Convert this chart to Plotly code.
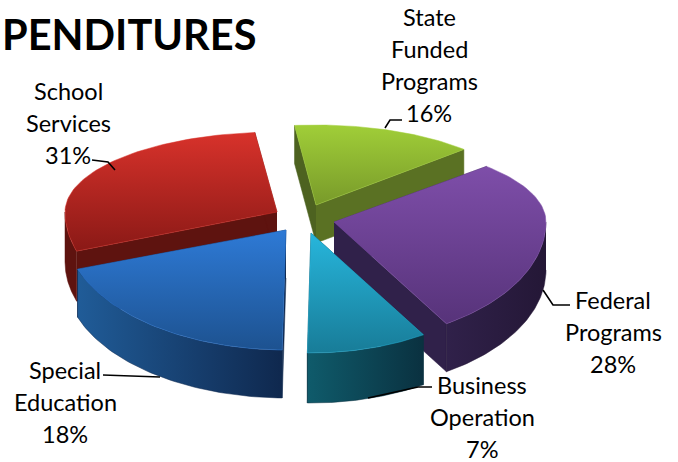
import numpy as np
import plotly.graph_objects as go

# Data as printed on the chart
categories = ["State Funded Programs", "Federal Programs", "Business Operation", "Special Education", "School Services"]
percent_labels = [16, 28, 7, 18, 31]
# Apparent share of the ellipse each slice covers
apparent_share = [14.44, 28.33, 9.17, 19.44, 28.62]
title_text = "PENDITURES"

label_lines = [["State", "Funded", "Programs"], ["Federal", "Programs"], ["Business", "Operation"], ["Special", "Education"], ["School", "Services"]]

# Layout / style
W, H = 678, 462
CX, CY = 305, 222
RX, RY_BACK, RY_FRONT = 212, 80, 120
START = -6
offset_x = [11, 29, 6, -19, -28]
offset_y = [-17, 0, 11, 8, -10]
rx_scale = [0.97, 1.0, 1.0, 1.04, 1.0]
depth = [38, 48, 50, 48, 50]
top_cols = [("#789a2a", "#a0ce38"), ("#57337a", "#7e4ea9"), ("#187c98", "#27b6dc"), ("#1d5290", "#2e7ad6"), ("#8a1916", "#d8322b")]
side_cols = [("#5c7423", "#5c7423"), ("#30214a", "#241736"), ("#0f5b6b", "#0a3140"), ("#205c98", "#0f284e"), ("#5e130f", "#5e130f")]
face_cols = ["#5a7123", "#30214a", "#0a3140", "#0f284e", "#5e130f"]
left_face_col = "#4d6220"
draw_order = [0, 4, 1, 3, 2]
label_x = [429, 613, 482, 65, 68]
label_y0 = [17, 300, 385, 370, 91]
LINE_H = 32
leaders = [([385, 390, 402], [128, 120, 120]), ([543, 553, 570], [290, 305, 305]),
           ([368, 418, 432], [398, 387, 387]), ([160, 103], [377, 375]), ([115, 108, 92], [170, 162, 160])]
FONT = "Lato"

def pt(a, apex, sx=1.0):
    t = np.radians(a)
    c = np.cos(t)
    ry = np.where(c >= 0, RY_BACK, RY_FRONT)
    return apex[0] + sx * RX * np.sin(t), apex[1] - ry * c

def poly(x, y, cols, kind="vertical"):
    return go.Scatter(x=list(x), y=list(y), mode="lines", fill="toself", line=dict(width=0.5, color=cols[1]),
                      hoverinfo="skip", showlegend=False,
                      fillgradient=dict(type=kind, colorscale=[[0, cols[0]], [1, cols[1]]]))

fig = go.Figure()
edges = START + np.cumsum([0] + apparent_share) * 3.6
for i in draw_order:
    a0, a1 = edges[i], edges[i + 1]
    apex = (CX + offset_x[i], CY + offset_y[i])
    d = depth[i]
    s = rx_scale[i]
    ang = np.linspace(a0, a1, 60)
    ax, ay = pt(ang, apex, s)
    # radial faces
    for a, col in ((a0, left_face_col if i == 0 else face_cols[i]), (a1, face_cols[i])):
        ex, ey = pt(np.array([a]), apex, s)
        fig.add_trace(poly([apex[0], ex[0], ex[0], apex[0]], [apex[1], ey[0], ey[0] + d, apex[1] + d], (col, col)))
    # outer wall on the near half
    lo, hi = max(a0, 90), min(a1, 270)
    if lo < hi:
        sa = np.linspace(lo, hi, 60)
        wx, wy = pt(sa, apex, s)
        fig.add_trace(poly(np.r_[wx, wx[::-1]], np.r_[wy, wy[::-1] + d], side_cols[i], "horizontal"))
    # top
    fig.add_trace(poly(np.r_[apex[0], ax, apex[0]], np.r_[apex[1], ay, apex[1]], top_cols[i]))

for lx, ly in leaders:
    fig.add_trace(go.Scatter(x=lx, y=ly, mode="lines", line=dict(color="black", width=1.6), hoverinfo="skip", showlegend=False))

anns = [dict(x=0, y=34, text=f"<b>{title_text}</b>", xanchor="left", yanchor="middle", showarrow=False,
             font=dict(family=FONT, size=41.5, color="black"))]
for i, lines in enumerate(label_lines):
    for j, s in enumerate(lines + [f"{percent_labels[i]}%"]):
        anns.append(dict(x=label_x[i], y=label_y0[i] + j * LINE_H, text=s, xanchor="center", yanchor="middle",
                         showarrow=False, font=dict(family=FONT, size=23.5, color="black"),
                         borderpad=0, borderwidth=0))

fig.update_layout(width=W, height=H, margin=dict(l=0, r=0, t=0, b=0), paper_bgcolor="white", plot_bgcolor="white",
                  showlegend=False, annotations=anns,
                  xaxis=dict(range=[0, W], visible=False, fixedrange=True),
                  yaxis=dict(range=[H, 0], visible=False, fixedrange=True))
fig.write_html("out.html", config=dict(displayModeBar=False),
               post_script="document.body.style.margin='0';document.documentElement.style.overflow='hidden';")
